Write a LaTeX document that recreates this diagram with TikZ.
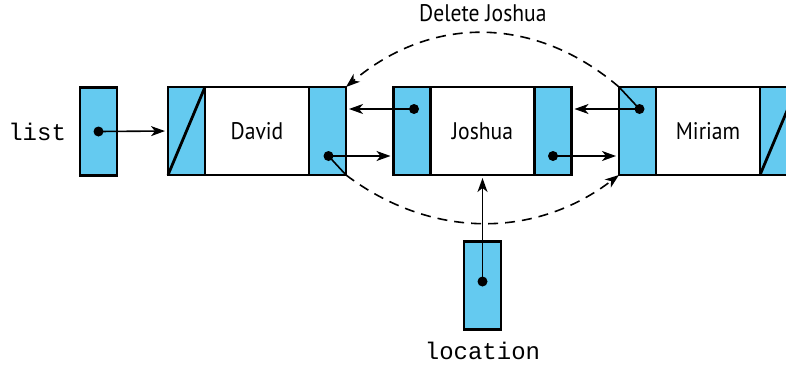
\documentclass[tikz,border=0pt]{standalone}
\usepackage{fontspec}
\setmainfont{PT Sans}[FakeStretch=0.9]
\setmonofont{Liberation Mono}
\usepackage{xcolor}
\usetikzlibrary{calc}
\usetikzlibrary{shapes,arrows.meta,positioning}
\definecolor{cellblue}{RGB}{100,202,240}

\tikzset{
	ptr/.style={draw,line width=1.4pt,fill=cellblue,minimum width=18.5pt,minimum height=44pt,inner sep=0pt,outer sep=0pt},
	info/.style={draw,line width=1.4pt,fill=white,minimum width=52pt,minimum height=44pt,inner sep=0pt,outer sep=0pt,font=\fontsize{12}{14}\selectfont},
	link/.style={-{Stealth[length=7pt,width=5pt,inset=2pt]},thick,shorten >=1.5pt},
	newlink/.style={-{Stealth[length=7pt,width=5pt,inset=2pt]},thick,dashed,dash pattern=on 5pt off 3.5pt},
	dot/.style={circle,fill=black,inner sep=0pt,minimum size=5pt},
	var/.style={font=\fontsize{12}{14}\ttfamily}
}

\begin{document}
\begin{tikzpicture}[x=0.5pt,y=-0.5pt]
	\clip (0,0) rectangle (786,364);
	% external pointers
	\node[ptr] (list) at (98.5,131.5) {};
	\node[ptr] (loc) at (482.5,285.5) {};
	\node[var,left=3.5pt of list] {list};
	\node[var,below=3pt of loc] {location};
	% list elements
	\node[ptr] (dP) at (186.5,131) {};
	\node[info,right=0pt of dP] (dD) {David};
	\node[ptr,right=0pt of dD] (dN) {};
	\node[ptr] (jP) at (412,131) {};
	\node[info,right=0pt of jP] (jD) {Joshua};
	\node[ptr,right=0pt of jD] (jN) {};
	\node[ptr] (mP) at (637.5,131) {};
	\node[info,right=0pt of mP] (mD) {Miriam};
	\node[ptr,right=0pt of mD] (mN) {};
	% null pointers
	\draw[line width=1.4pt] (dP.south west) -- (dP.north east);
	\draw[line width=1.4pt] (mN.south west) -- (mN.north east);
	% pointer dots
	\node[dot] (listdot) at (list.center) {};
	\node[dot] (locdot) at ($(loc.center)+(0,-4)$) {};
	\node[dot] (dNdot) at ($(dN.center)+(1,25)$) {};
	\node[dot] (jPdot) at ($(jP.center)+(2,-22)$) {};
	\node[dot] (jNdot) at ($(jN.center)+(0,25)$) {};
	\node[dot] (mPdot) at ($(mP.center)+(2,-22)$) {};
	% links
	\draw[link] (listdot.center) -- (dP.west);
	\draw[link] (dNdot.center) -- (jP.west |- dNdot);
	\draw[link] (jPdot.center) -- (dN.east |- jPdot);
	\draw[link] (jNdot.center) -- (mP.west |- jNdot);
	\draw[link] (mPdot.center) -- (jN.east |- mPdot);
	\draw[link] (locdot.center) -- (jD.south);
	% new links after deleting
	\draw[thick] (mPdot.center) -- (mP.north west);
	\draw[newlink] (mP.north west) .. controls (535,15) and (431,15) .. (dN.north east)
		node[pos=0.5,above=2pt,font=\fontsize{12}{14}\selectfont] {Delete Joshua};
	\draw[thick] (dNdot.center) -- (dN.south east);
	\draw[newlink] (dN.south east) .. controls (431,239) and (535,239) .. (mP.south west);
\end{tikzpicture}
\end{document}
